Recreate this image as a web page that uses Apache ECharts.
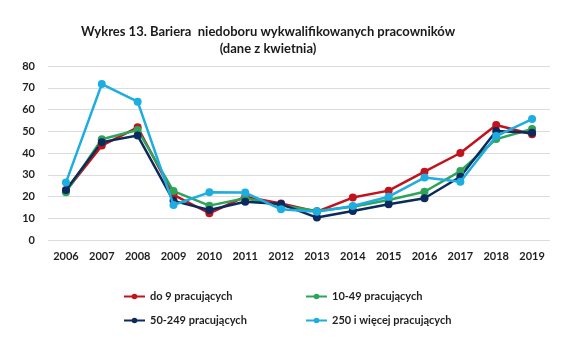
<!DOCTYPE html>
<html><head><meta charset="utf-8">
<script src="https://cdn.jsdelivr.net/npm/echarts@6/dist/echarts.min.js"></script>
<style>html,body{margin:0;padding:0;background:#fff}#c{width:567px;height:348px}</style>
</head><body><div id="c"></div>
<script>
const years = ['2006','2007','2008','2009','2010','2011','2012','2013','2014','2015','2016','2017','2018','2019'];
const seriesNames = ['do 9 pracujących','10-49 pracujących','50-249 pracujących','250 i więcej pracujących'];
const do9 =     [22.5, 43.4, 51.8, 20.7, 12.3, 19.9, 16.8, 13.0, 19.5, 22.7, 31.4, 40.0, 52.9, 48.6];
const p10_49 =  [22.0, 46.3, 50.6, 22.5, 15.8, 19.2, 15.9, 13.3, 15.3, 18.4, 22.2, 31.7, 46.4, 51.0];
const p50_249 = [23.0, 45.0, 48.0, 18.0, 13.8, 17.6, 16.5, 10.3, 13.3, 16.4, 19.2, 29.1, 50.1, 49.3];
const p250 =    [26.4, 71.7, 63.6, 16.1, 21.9, 21.8, 14.1, 13.0, 15.6, 19.9, 28.7, 26.8, 47.8, 55.6];
const yTicks = [0, 10, 20, 30, 40, 50, 60, 70, 80];

const colors = ['#C0141C', '#2EA35A', '#0D2A5C', '#1DADE0'];
const values = [do9, p10_49, p50_249, p250];
const font = 'Lato, "Noto Sans", sans-serif';
const chart = echarts.init(document.getElementById('c'));
const legendPos = [[118, 286], [300, 286], [118, 310], [300, 310]];
chart.setOption({
  animation: false,
  title: {
    text: 'Wykres 13. Bariera  niedoboru wykwalifikowanych pracowników\n(dane z kwietnia)',
    left: 263, top: 18, textAlign: 'center',
    textStyle: { fontFamily: font, fontSize: 13, fontWeight: 'bold', color: '#1a1a1a', lineHeight: 17, align: 'center' }
  },
  legend: seriesNames.map((n, i) => ({
    data: [n], left: legendPos[i][0], top: legendPos[i][1],
    itemWidth: 21, itemHeight: 7, itemGap: 2,
    textStyle: { fontFamily: font, fontSize: 11, fontWeight: 'bold', color: '#1f1f1f' }
  })),
  grid: { left: 48, right: 17, top: 66, bottom: 108 },
  xAxis: {
    type: 'category', data: years, boundaryGap: true,
    axisLine: { show: false }, axisTick: { show: false },
    axisLabel: { fontFamily: font, fontSize: 11, fontWeight: 'bold', color: '#1f1f1f', margin: 11 }
  },
  yAxis: {
    type: 'value', min: yTicks[0], max: yTicks[yTicks.length - 1], interval: 10,
    axisLine: { show: false }, axisTick: { show: false },
    splitLine: { lineStyle: { color: '#dcdcdc', width: 1 } },
    axisLabel: { fontFamily: font, fontSize: 11, fontWeight: 'bold', color: '#1f1f1f', margin: 13 }
  },
  series: seriesNames.map((n, i) => ({
    name: n, type: 'line', data: values[i],
    symbol: 'circle', symbolSize: 8,
    lineStyle: { color: colors[i], width: 2.5 },
    itemStyle: { color: colors[i] },
    z: i === 3 ? 5 : 2
  }))
});
</script></body></html>
